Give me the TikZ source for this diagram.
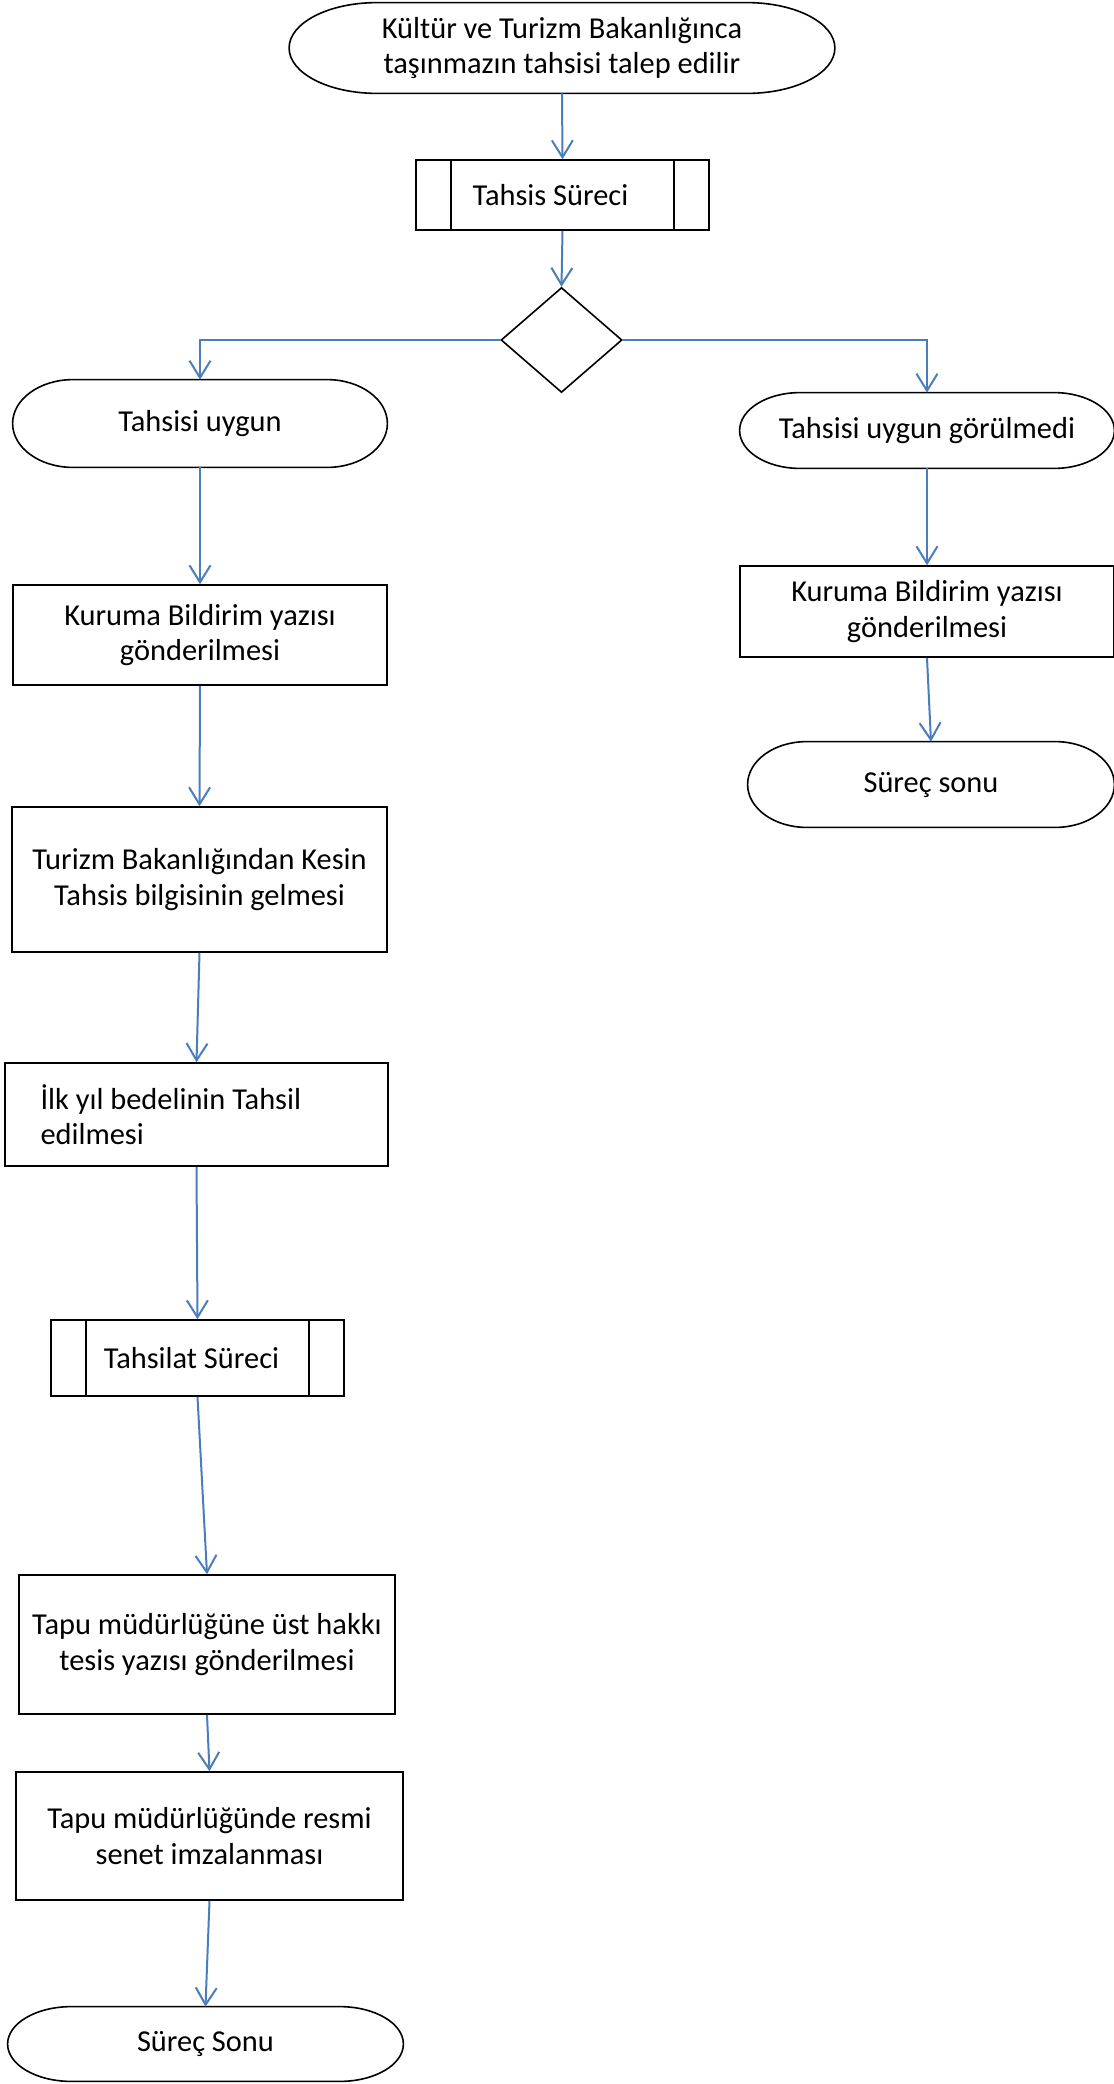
\documentclass[tikz,border=0pt]{standalone}
\usepackage{fontspec}
\setmainfont{Carlito}
\usetikzlibrary{shapes.geometric,arrows.meta,calc}
\definecolor{flowblue}{RGB}{74,126,187}

\begin{document}
\begin{tikzpicture}[%
        x=0.5pt, y=-0.5pt,
        every node/.style={font=\fontsize{15.2}{17.8}\selectfont, align=center, inner sep=0pt},
        box/.style={rectangle, draw=black, line width=0.8pt},
        term/.style={rectangle},
        subproc/.style={rectangle, draw=black, line width=0.8pt},
        decision/.style={diamond, draw=black, line width=0.8pt, aspect=1.15},
        flow/.style={draw=flowblue, line width=1pt, -{Straight Barb[length=8.5pt,width=10.5pt,line width=1pt]}}
        ]
        \useasboundingbox (0,0) rectangle (1114,2084);
        \clip (0,0) rectangle (1114,2084);

        % main column
        \node[term, minimum width=272.5pt, minimum height=45pt] (start) at (562,48)
            {Kültür ve Turizm Bakanlığınca\\taşınmazın tahsisi talep edilir};
        \node[subproc, minimum width=146.5pt, minimum height=35pt] (tahsis) at (562.5,195) {Tahsis Süreci\hspace*{12pt}};
        \node[decision, minimum width=60.5pt, minimum height=52.5pt] (dia) at (561.5,340) {};

        % left branch
        \node[term, minimum width=187pt, minimum height=43.5pt] (ok) at (200,423.5) {Tahsisi uygun};
        \node[box, minimum width=187pt, minimum height=50pt] (kurl) at (200,635)
            {Kuruma Bildirim yazısı\\gönderilmesi};
        \node[box, minimum width=187.5pt, minimum height=72.5pt] (turizm) at (199.5,879.5)
            {Turizm Bakanlığından Kesin\\Tahsis bilgisinin gelmesi};
        \node[box, minimum width=191.5pt, minimum height=51.5pt, text width=156pt, align=flush left] (ilk) at (196.5,1114.5)
            {İlk yıl bedelinin Tahsil\\edilmesi};
        \node[subproc, minimum width=146.5pt, minimum height=38pt] (tahsilat) at (197.5,1358) {Tahsilat Süreci\hspace*{6pt}};
        \node[box, minimum width=188pt, minimum height=69.5pt] (tapu1) at (207,1644.5)
            {Tapu müdürlüğüne üst hakkı\\tesis yazısı gönderilmesi};
        \node[box, minimum width=193.5pt, minimum height=64pt] (tapu2) at (209.5,1836)
            {Tapu müdürlüğünde resmi\\senet imzalanması};
        \node[term, minimum width=197.5pt, minimum height=37pt] (endl) at (205.5,2044) {Süreç Sonu};

        % right branch
        \node[term, minimum width=187pt, minimum height=37.5pt] (notok) at (927,430.5) {Tahsisi uygun görülmedi};
        \node[box, minimum width=187pt, minimum height=45.5pt] (kurr) at (927,611.5)
            {Kuruma Bildirim yazısı\\gönderilmesi};
        \node[term, minimum width=183pt, minimum height=42.5pt] (endr) at (931,784.5) {Süreç sonu};

        % terminator outlines
        \foreach \t in {start,ok,notok,endr,endl}
            \draw[line width=0.8pt] let \p1=(\t.north east), \p2=(\t.south west),
                \n1={0.161*(\x1-\x2)}, \n2={(\y1-\y2)/2} in
                ($(\t.north west)+(\n1,0pt)$) -- ($(\t.north east)+(-\n1,0pt)$)
                arc[start angle=90, end angle=-90, x radius=\n1, y radius=\n2]
                -- ($(\t.south west)+(\n1,0pt)$)
                arc[start angle=270, end angle=90, x radius=\n1, y radius=\n2] -- cycle;

        % subprocess side bars
        \foreach \s in {tahsis,tahsilat}
            \draw[line width=0.8pt] ([xshift=18pt]\s.north west) -- ([xshift=18pt]\s.south west)
                ([xshift=-18pt]\s.north east) -- ([xshift=-18pt]\s.south east);

        \draw[flow] (start.south) -- (tahsis.north);
        \draw[flow] (tahsis.south) -- (dia.north);
        \draw[flow] (dia.west) -| (ok.north);
        \draw[flow] (dia.east) -| (notok.north);
        \draw[flow] (ok.south) -- (kurl.north);
        \draw[flow] (kurl.south) -- (turizm.north);
        \draw[flow] (turizm.south) -- (ilk.north);
        \draw[flow] (ilk.south) -- (tahsilat.north);
        \draw[flow] (tahsilat.south) -- (tapu1.north);
        \draw[flow] (tapu1.south) -- (tapu2.north);
        \draw[flow] (tapu2.south) -- (endl.north);
        \draw[flow] (notok.south) -- (kurr.north);
        \draw[flow] (kurr.south) -- (endr.north);
\end{tikzpicture}
\end{document}
